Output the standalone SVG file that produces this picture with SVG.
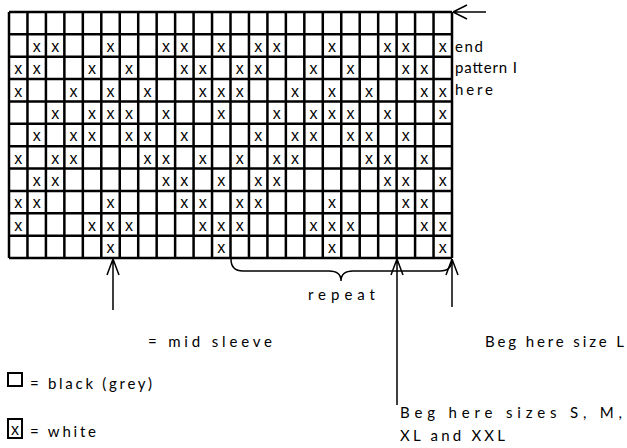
<svg xmlns="http://www.w3.org/2000/svg" width="627" height="448" viewBox="0 0 627 448">
<style>
.grid{stroke:#000;stroke-width:2.5;fill:none}
.mk{font-family:"Liberation Sans",Arial,sans-serif;font-size:16px;fill:#000;text-anchor:middle}
.lbl{font-family:Lato,"Open Sans",sans-serif;font-size:15px;fill:#000}
.conn{stroke:#000;stroke-width:1.5;fill:none}
</style>
<rect width="627" height="448" fill="#fff"/>
<g id="grid">
<path class="grid" d="M9 12V258M27.46 12V258M45.92 12V258M64.37 12V258M82.83 12V258M101.29 12V258M119.75 12V258M138.21 12V258M156.67 12V258M175.12 12V258M193.58 12V258M212.04 12V258M230.5 12V258M248.96 12V258M267.42 12V258M285.87 12V258M304.33 12V258M322.79 12V258M341.25 12V258M359.71 12V258M378.17 12V258M396.62 12V258M415.08 12V258M433.54 12V258M452 12V258"/>
<path class="grid" d="M9 12H452M9 34.36H452M9 56.73H452M9 79.09H452M9 101.45H452M9 123.82H452M9 146.18H452M9 168.55H452M9 190.91H452M9 213.27H452M9 235.64H452M9 258H452"/>
</g>
<g id="marks">
<text class="mk" y="51.7" x="36.69 55.15 110.52 165.9 184.35 221.27 258.19 276.65 332.02 387.4 405.85 442.77">xxxxxxxxxxxx</text>
<text class="mk" y="74.1" x="18.23 36.69 92.06 128.98 184.35 202.81 239.73 258.19 313.56 350.48 405.85 424.31">xxxxxxxxxxxx</text>
<text class="mk" y="96.5" x="18.23 73.6 110.52 147.44 202.81 221.27 239.73 295.1 332.02 368.94 424.31 442.77">xxxxxxxxxxxx</text>
<text class="mk" y="118.8" x="55.15 92.06 110.52 128.98 165.9 221.27 276.65 313.56 332.02 350.48 387.4 442.77">xxxxxxxxxxxx</text>
<text class="mk" y="141.2" x="36.69 73.6 92.06 128.98 147.44 184.35 258.19 295.1 313.56 350.48 368.94 405.85">xxxxxxxxxxxx</text>
<text class="mk" y="163.5" x="18.23 55.15 73.6 147.44 165.9 202.81 239.73 276.65 295.1 368.94 387.4 424.31">xxxxxxxxxxxx</text>
<text class="mk" y="185.9" x="36.69 55.15 165.9 184.35 221.27 258.19 276.65 387.4 405.85 442.77">xxxxxxxxxx</text>
<text class="mk" y="208.3" x="18.23 36.69 110.52 184.35 202.81 239.73 258.19 332.02 405.85 424.31">xxxxxxxxxx</text>
<text class="mk" y="230.6" x="18.23 92.06 110.52 128.98 202.81 221.27 239.73 313.56 332.02 350.48 424.31 442.77">xxxxxxxxxxxx</text>
<text class="mk" y="253" x="110.52 221.27 332.02 442.77">xxxx</text>
</g>
<g id="connectors">
<path class="conn" d="M453 12H486M453 12L467 5M453 12L467 19"/>
<path class="conn" d="M113 259V310M113 259L107 275M113 259L119 275"/>
<path class="conn" d="M397 259V405M397 259L391 275M397 259L403 275"/>
<path class="conn" d="M452 259V307M452 259L446 275M452 259L458 275"/>
<path class="conn" d="M231 259Q231 271 243 271H329Q341 271 341 281Q341 271 353 271H440Q452 271 452 259"/>
</g>
<g id="labels">
<text class="lbl" x="455" y="52" textLength="28" lengthAdjust="spacing">end</text>
<text class="lbl" x="455" y="73" textLength="62" lengthAdjust="spacing">pattern I</text>
<text class="lbl" x="455" y="95" textLength="38" lengthAdjust="spacing">here</text>
<text class="lbl" x="308" y="300" textLength="67" lengthAdjust="spacing">repeat</text>
<text class="lbl" x="148" y="347" textLength="124" lengthAdjust="spacing">= mid sleeve</text>
<text class="lbl" x="485" y="347" textLength="139" lengthAdjust="spacing">Beg here size L</text>
<text class="lbl" x="400" y="418" textLength="222" lengthAdjust="spacing">Beg here sizes S, M,</text>
<text class="lbl" x="400" y="441" textLength="105" lengthAdjust="spacing">XL and XXL</text>
</g>
<g id="legend">
<rect x="8" y="373" width="14" height="13" fill="none" stroke="#000" stroke-width="2"/>
<text class="lbl" x="30" y="389" textLength="122" lengthAdjust="spacing">= black (grey)</text>
<rect x="8" y="419" width="14" height="19" fill="none" stroke="#000" stroke-width="2"/>
<text class="mk" x="15" y="435">x</text>
<text class="lbl" x="30" y="437" textLength="66" lengthAdjust="spacing">= white</text>
</g>
</svg>
